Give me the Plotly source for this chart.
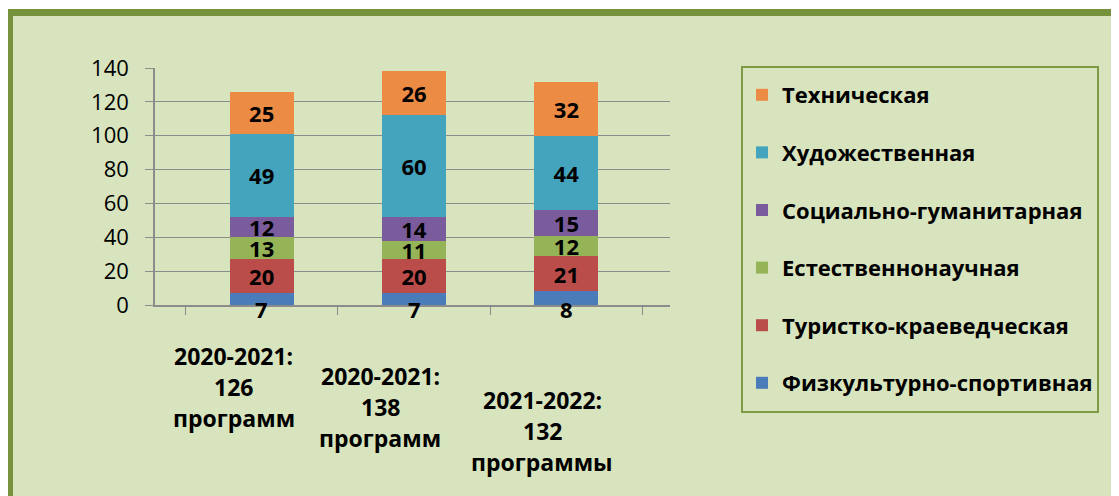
import plotly.graph_objects as go

# ---- data ----
categories = ["2020-2021:<br>126<br>программ",
              "2020-2021:<br>138<br>программ",
              "2021-2022:<br>132<br>программы"]
series_names = ["Физкультурно-спортивная", "Туристко-краеведческая", "Естественнонаучная",
                "Социально-гуманитарная", "Художественная", "Техническая"]
fizkult = [7, 7, 8]
turist = [20, 20, 21]
estestv = [13, 11, 12]
social = [12, 14, 15]
hudozh = [49, 60, 44]
tehnich = [25, 26, 32]
series_values = [fizkult, turist, estestv, social, hudozh, tehnich]
y_ticks = [0, 20, 40, 60, 80, 100, 120, 140]

colors = ["#4A7CB9", "#BA4C49", "#94B457", "#7A5C9C", "#44A4BE", "#EC8B43"]

# page body has an 8px margin -> figure is drawn offset by 8px
OFF = 8
W, H = 1119 - OFF, 496 - OFF
L, T = 155 - OFF, 68 - OFF
R = W - (670 - OFF)
B = H - (305 - OFF)
pw, ph = W - L - R, H - T - B
FONT = "Open Sans"


def px_x(p):  # page pixel -> paper x
    return (p - OFF - L) / pw


def px_y(p):  # page pixel -> paper y
    return (T + ph - (p - OFF)) / ph


fig = go.Figure()
for i, (name, vals, col) in enumerate(zip(series_names, series_values, colors)):
    fig.add_trace(go.Bar(
        x=categories, y=vals, name=name, legendgroup=name,
        legendrank=len(series_names) - i,
        marker=dict(color=col, line=dict(width=0)),
        text=[str(v) for v in vals],
        textposition="none" if i == 0 else "inside", textangle=0,
        constraintext="none", insidetextanchor="middle",
        insidetextfont=dict(family=FONT, size=22, color="black", weight="bold"),
    ))

# bottom-segment values shown just at the base (as in the reference)
for cat, v in zip(categories, fizkult):
    fig.add_annotation(x=cat, y=0, xref="x", yref="y", text=str(v), showarrow=False,
                       yanchor="middle", yshift=-4,
                       font=dict(family=FONT, size=22, color="black", weight="bold"))

# category labels (perspective-staggered), one annotation per line
lab_pos = [(-28, 356), (-34, 376), (-24, 400)]
for cat, (xs, ytop) in zip(categories, lab_pos):
    for k, line in enumerate(cat.split("<br>")):
        fig.add_annotation(x=cat, y=px_y(ytop + 31 * k), xref="x", yref="paper", xshift=xs,
                           text=line, showarrow=False, yanchor="middle", xanchor="center",
                           font=dict(family=FONT, size=23, color="black", weight="bold"))

# outer green frame
fig.add_shape(type="rect", xref="paper", yref="paper",
              x0=px_x(9.5), x1=px_x(1140), y0=px_y(520), y1=px_y(12.5),
              line=dict(color="#76923C", width=7), fillcolor="#D8E4BD", layer="below")
# legend frame
fig.add_shape(type="rect", xref="paper", yref="paper",
              x0=px_x(742), x1=px_x(1098), y0=px_y(412), y1=px_y(67),
              line=dict(color="#7E9A45", width=2), fillcolor="rgba(0,0,0,0)", layer="below")

fig.update_layout(
    width=W, height=H,
    margin=dict(l=L, r=R, t=T, b=B),
    paper_bgcolor="white", plot_bgcolor="rgba(0,0,0,0)",
    barmode="stack", bargap=0.58,
    font=dict(family=FONT, color="black"),
    showlegend=True,
    legend=dict(
        x=px_x(742), y=px_y(74), xanchor="left", yanchor="top",
        traceorder="grouped", tracegroupgap=26, maxheight=420,
        bgcolor="rgba(0,0,0,0)", borderwidth=0,
        font=dict(family=FONT, size=22, color="black", weight="bold"),
        itemclick=False,
    ),
    xaxis=dict(range=[-0.7, 2.68], showticklabels=False, ticks="outside",
               tickson="boundaries", ticklen=8, tickcolor="#8C8C8C",
               showline=True, linecolor="#8C8C8C", linewidth=1.5,
               showgrid=False, fixedrange=True),
    yaxis=dict(range=[0, 140], tickvals=y_ticks, ticks="outside", ticklen=8,
               ticklabelstandoff=12,
               tickcolor="#8C8C8C", showline=True, linecolor="#8C8C8C", linewidth=1.5,
               showgrid=True, gridcolor="#8C8C8C", gridwidth=1.3, zeroline=False,
               tickfont=dict(family=FONT, size=22, color="black")),
)

fig.write_html("out.html")
